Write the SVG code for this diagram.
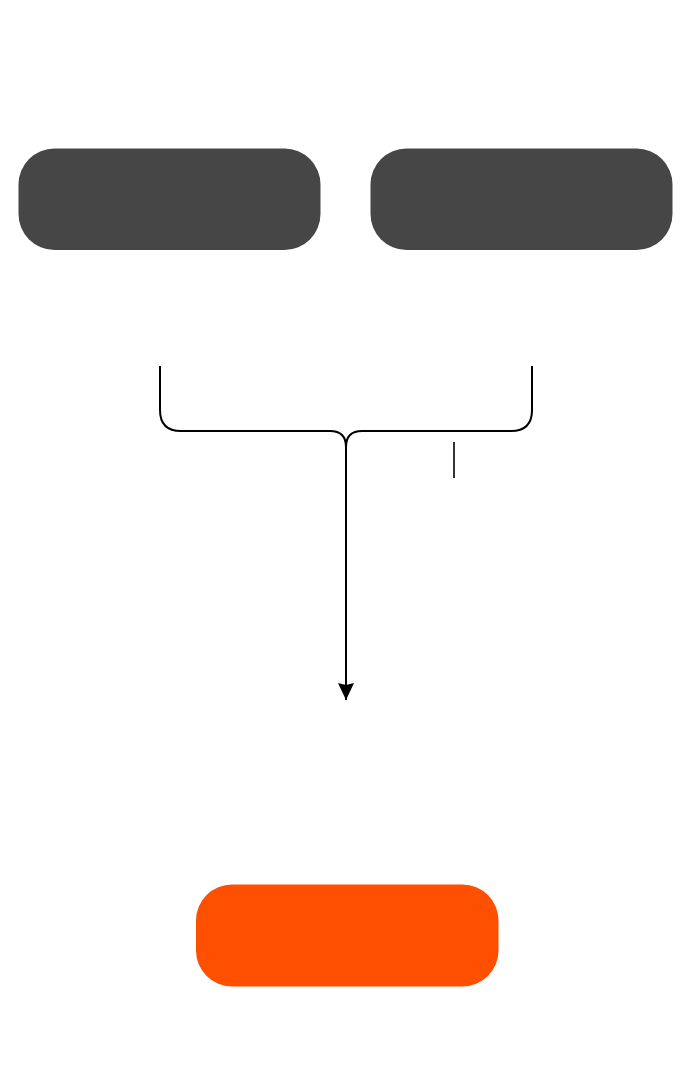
<svg xmlns="http://www.w3.org/2000/svg" width="690" height="1070" viewBox="0 0 690 1070">
<style>
.dark{fill:#464646}
.accent{fill:#FF4F00}
.conn{fill:none;stroke:#000;stroke-width:2}
</style>
<defs>
<marker id="arrow" markerWidth="18" markerHeight="16" refX="17" refY="8" orient="auto" markerUnits="userSpaceOnUse" viewBox="0 0 18 16">
<path d="M0,0 L17,8 L0,16 L2,8 Z" fill="#000"/>
</marker>
</defs>
<rect width="690" height="1070" fill="#fff"/>
<g id="node-left"><rect class="dark" x="18.5" y="148.5" width="302" height="101.5" rx="36"/></g>
<g id="node-right"><rect class="dark" x="370.5" y="148.5" width="302" height="101.5" rx="36"/></g>
<g id="node-bottom"><rect class="accent" x="196" y="884.5" width="302.5" height="102" rx="36"/></g>
<g id="connectors">
<path class="conn" d="M160,366 V410 Q160,431 181,431 H330 Q346,431 346,447"/>
<path class="conn" d="M532,366 V410 Q532,431 511,431 H362 Q346,431 346,447"/>
<path class="conn" d="M346,446 V700" marker-end="url(#arrow)"/>
</g>
<line x1="454" y1="442" x2="454" y2="478" stroke="#333" stroke-width="2"/>
</svg>
